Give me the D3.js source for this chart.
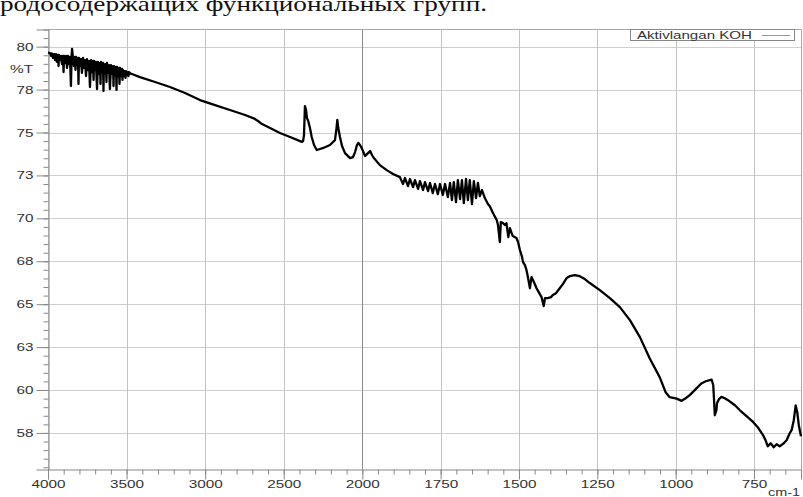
<!DOCTYPE html>
<html><head><meta charset="utf-8">
<script src="https://cdn.jsdelivr.net/npm/d3@7"></script>
<style>
html,body{margin:0;padding:0;background:#fff;}
svg{display:block;}
</style></head>
<body>
<svg id="chart" width="803" height="497"></svg>
<script>
// ---- data ----
const wavenumber = [
4000,3987,3981,3975,3968,3962,3955,3949,3943,3936,3933,3930,3924,3917,3911,3905,3901,3898,3892,3885,
3879,3873,3866,3860,3854,3850,3847,3841,3835,3828,3825,3822,3816,3809,3806,3803,3796,3790,3784,3777,
3771,3765,3758,3752,3746,3739,3733,3726,3720,3714,3710,3707,3701,3695,3688,3682,3676,3669,3666,3663,
3656,3650,3647,3644,3637,3631,3628,3625,3618,3612,3606,3599,3593,3586,3583,3580,3574,3567,3564,3561,
3555,3548,3545,3542,3536,3529,3526,3523,3516,3510,3507,3504,3497,3491,3488,3485,3472,3466,
3415,3319,3224,3128,3033,2937,2842,2746,2683,2664,2638,2587,2524,2460,2396,2384,
2377,2371,2365,2358,2352,2344,2333,2322,2307,2290,2269,2248,2206,2174,2164,2159,2153,2142,2129,2110,
2078,2059,2046,2034,2025,2015,2004,1991,1982,1975,1969,1963,1944,1922,1902,
1880,1870,1864,1854,1848,1838,1832,1822,1816,1806,1800,1790,1784,1775,1768,1759,1752,1743,1736,1727,
1720,1714,1708,1701,1695,1688,1682,1676,1669,1663,1657,1650,1644,1637,1631,1625,1618,1609,1599,1593,
1583,1571,1567,1561,1558,1551,1545,1540,1534,1529,1520,1508,1503,1497,1491,1487,1481,1476,1472,1465,
1460,1452,1444,1437,1428,1421,1417,1408,1398,1392,1382,1370,1360,1348,1338,1322,1306,1290,1274,1242,
1210,1178,1146,1114,1083,1051,1032,1019,997,981,968,955,936,918,904,891,885,880,875,870,
868,862,854,843,833,811,795,773,753,738,721,713,706,697,687,678,668,655,646,636,
630,623,617,612,607,600
];
const transmittance = [
79.65,79.63,79.46,79.60,79.34,79.57,79.22,79.57,79.11,79.52,78.87,79.52,79.22,79.46,78.99,79.46,78.52,79.46,79.05,79.46,
78.76,79.46,78.99,79.40,77.71,79.40,79.87,79.34,78.87,79.40,78.64,79.40,78.93,79.34,77.83,79.34,78.87,79.28,78.47,79.34,
78.76,79.22,78.29,79.28,78.64,79.17,77.65,79.22,78.52,79.17,78.06,79.17,78.64,79.11,77.53,79.11,78.41,79.05,77.83,79.11,
78.52,79.05,77.42,78.99,78.41,78.99,77.94,79.05,78.47,78.93,77.53,78.93,78.41,78.87,77.71,78.87,78.35,78.82,77.48,78.82,
78.29,78.76,77.83,78.76,78.29,78.70,78.06,78.64,78.29,78.58,78.18,78.58,78.35,78.52,78.29,78.52,78.41,78.41,
78.23,77.94,77.65,77.30,76.89,76.60,76.31,76.02,75.79,75.67,75.49,75.26,74.97,74.74,74.50,74.45,
74.50,74.85,76.54,76.31,75.84,75.67,75.26,74.74,74.27,73.98,74.04,74.10,74.27,74.56,75.26,75.73,75.26,74.74,74.21,73.80,
73.51,73.57,73.86,74.27,74.39,74.27,74.10,73.63,73.80,73.92,73.69,73.51,73.10,72.81,72.58,
72.40,72.00,72.35,71.88,72.29,71.82,72.23,71.71,72.17,71.65,72.11,71.59,72.06,71.47,72.00,71.41,72.00,71.36,72.00,71.24,
72.06,71.06,72.11,70.95,72.23,71.12,72.23,70.89,72.29,71.06,72.23,70.83,72.17,71.18,72.06,71.30,71.65,71.18,70.83,70.71,
70.31,69.90,69.61,68.62,69.78,69.72,69.61,69.72,68.91,69.43,68.97,68.85,68.62,68.15,67.80,67.45,67.27,66.98,66.63,65.93,
66.58,66.28,65.93,65.70,65.41,64.89,65.35,65.35,65.41,65.53,65.64,65.93,66.17,66.52,66.63,66.69,66.63,66.46,66.23,65.82,
65.35,64.83,64.07,63.08,61.85,60.75,59.87,59.58,59.50,59.37,59.52,59.70,60.05,60.38,60.51,60.57,60.60,60.28,58.53,58.82,
59.23,59.46,59.60,59.52,59.41,59.11,58.82,58.47,58.14,57.83,57.37,57.07,56.72,56.90,56.67,56.84,56.72,56.90,57.07,57.48,
57.66,58.24,59.11,58.71,57.95,57.31
];
const xTickValues = [4000,3500,3000,2500,2000,1750,1500,1250,1000,750];
const xTickLabels = ["4000","3500","3000","2500","2000","1750","1500","1250","1000","750"];
const yTickValues = [80,77.5,75,72.5,70,67.5,65,62.5,60,57.5];
const yTickLabels = ["80","78","75","73","70","68","65","63","60","58"];
const seriesName = "Aktivlangan KOH";
const yUnit = "%T";
const xUnit = "cm-1";
const headingText = "родосодержащих функциональных групп.";

// ---- scales ----
const svg = d3.select("#chart");
const pL = 48, pR = 801, pT = 29.5, pB = 469.5;
const x = d3.scaleLinear().domain([4000, 2000, 600]).range([pL, 362.3, pR]);
const y = d3.scaleLinear().domain([55.37, 81]).range([pB, pT]);

const xMinor = d3.range(4000, 2000, -100).concat(d3.range(2000, 599, -50));
const yMinor = d3.range(55.5, 81.01, 0.5);

// heading fragment (cut at top)
svg.append("text").attr("x", 0).attr("y", 11)
  .attr("font-family", "'Liberation Serif', serif").attr("font-size", 22)
  .attr("textLength", 487).attr("lengthAdjust", "spacingAndGlyphs")
  .attr("fill", "#111").text(headingText);

// grid
const grid = svg.append("g");
grid.selectAll("line.h").data(yTickValues).join("line")
  .attr("x1", pL).attr("x2", pR).attr("y1", d => Math.round(y(d)) + 0.5).attr("y2", d => Math.round(y(d)) + 0.5)
  .attr("stroke", "#cfcfcf").attr("stroke-width", 1);
grid.selectAll("line.v").data(xTickValues).join("line")
  .attr("y1", pT).attr("y2", pB).attr("x1", d => Math.round(x(d)) + 0.5).attr("x2", d => Math.round(x(d)) + 0.5)
  .attr("stroke", d => d === 2000 ? "#8a8a8a" : "#c4c4c4").attr("stroke-width", 1);

// frame top & right
svg.append("line").attr("x1", pL).attr("x2", pR).attr("y1", pT).attr("y2", pT).attr("stroke", "#a8a8a8");
svg.append("line").attr("x1", pR + 0.5).attr("x2", pR + 0.5).attr("y1", pT).attr("y2", pB).attr("stroke", "#a8a8a8");

function styleAxis(g, widthFn) {
  g.select(".domain").attr("stroke", "#888");
  g.selectAll(".tick line").attr("stroke", "#888");
  g.selectAll(".tick text")
    .attr("font-family", "'Liberation Sans', Arial, sans-serif").attr("font-size", 11).attr("fill", "#333")
    .attr("textLength", widthFn).attr("lengthAdjust", "spacingAndGlyphs");
}

// y axis
const gyMinor = svg.append("g").attr("transform", `translate(${pL + 0.5},0)`)
  .call(d3.axisLeft(y).tickValues(yMinor).tickSize(5).tickFormat(""));
gyMinor.select(".domain").remove();
gyMinor.selectAll("line").attr("stroke", "#888");
const gy = svg.append("g").attr("transform", `translate(${pL + 0.5},0)`)
  .call(d3.axisLeft(y).tickValues(yTickValues).tickSize(12).tickPadding(3)
    .tickFormat((d, i) => yTickLabels[i]));
styleAxis(gy, (d, i) => yTickLabels[i].length * 8.5);

// x axis
const gxMinor = svg.append("g").attr("transform", `translate(0,${pB})`)
  .call(d3.axisBottom(x).tickValues(xMinor).tickSize(5).tickFormat(""));
gxMinor.select(".domain").remove();
gxMinor.selectAll("line").attr("stroke", "#888");
const gx = svg.append("g").attr("transform", `translate(0,${pB})`)
  .call(d3.axisBottom(x).tickValues(xTickValues).tickSize(10).tickPadding(1)
    .tickFormat((d, i) => xTickLabels[i]));
styleAxis(gx, (d, i) => xTickLabels[i].length * 8.5);

// unit labels
svg.append("text").attr("x", 10).attr("y", 72.5)
  .attr("font-family", "'Liberation Sans', Arial, sans-serif").attr("font-size", 10.5).attr("fill", "#333")
  .attr("textLength", 23).attr("lengthAdjust", "spacingAndGlyphs").text(yUnit);
svg.append("text").attr("x", 768).attr("y", 496)
  .attr("font-family", "'Liberation Sans', Arial, sans-serif").attr("font-size", 10.5).attr("fill", "#333")
  .attr("textLength", 32).attr("lengthAdjust", "spacingAndGlyphs").text(xUnit);

// spectrum
const pts = wavenumber.map((w, i) => ({w, t: transmittance[i]}));
svg.append("path").datum(pts)
  .attr("fill", "none").attr("stroke", "#000").attr("stroke-width", 2.3)
  .attr("stroke-linejoin", "round")
  .attr("d", d3.line().x(d => x(d.w)).y(d => y(d.t)));

// legend
const lg = svg.append("g");
lg.append("rect").attr("x", 630.5).attr("y", 29.5).attr("width", 164).attr("height", 11)
  .attr("fill", "#fff").attr("stroke", "#888");
lg.append("text").attr("x", 637).attr("y", 38.5)
  .attr("font-family", "'Liberation Sans', Arial, sans-serif").attr("font-size", 10.5).attr("fill", "#333")
  .attr("textLength", 115).attr("lengthAdjust", "spacingAndGlyphs").text(seriesName);
lg.append("line").attr("x1", 762).attr("x2", 790).attr("y1", 35.5).attr("y2", 35.5)
  .attr("stroke", "#999").attr("stroke-width", 1);
</script>
</body></html>
